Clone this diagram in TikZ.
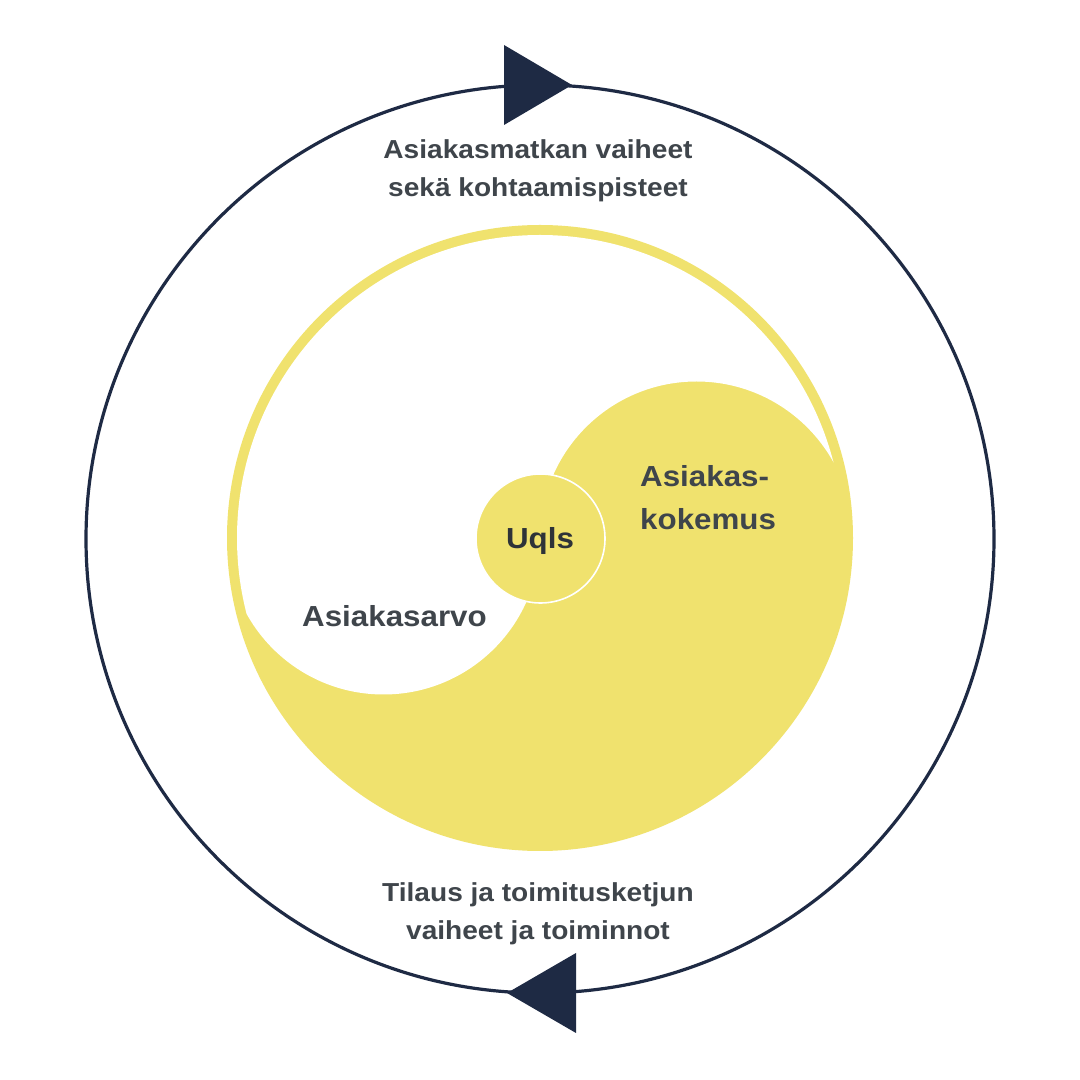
\documentclass[tikz,border=0pt]{standalone}
\usepackage{fontspec}
\setmainfont{Liberation Sans}[FakeStretch=1.08]
\usetikzlibrary{calc}
\definecolor{navy}{HTML}{1E2A44}
\definecolor{yel}{HTML}{F0E26E}
\definecolor{tgray}{HTML}{3F454B}
\definecolor{udark}{HTML}{2E3338}
\tikzset{
  lbl/.style={text=tgray, inner sep=0pt, font=\bfseries\fontsize{29}{43}\selectfont},
  cyclbl/.style={text=tgray, inner sep=0pt, align=center, font=\bfseries\fontsize{26}{38}\selectfont},
  arrowtri/.style={fill=navy},
}
\begin{document}
\begin{tikzpicture}[x=1pt,y=1pt]
\useasboundingbox (0,0) rectangle (1080,1080);
\fill[white] (0,0) rectangle (1080,1080);
% outer cycle
\node[circle, draw=navy, line width=3.2pt, minimum size=908pt, inner sep=0pt] (cycle) at (540,541) {};
\fill[arrowtri] (504,1035) -- (572,995) -- (504,955) -- cycle;
\fill[arrowtri] (576,127) -- (507,87) -- (576,47) -- cycle;
% yin-yang
\coordinate (yc) at (540,542);
\fill[yel] (yc) circle[radius=313];
\begin{scope}
  \clip (yc) circle[radius=303];
  \fill[white] ($(yc)+(-313,0)$) arc[start angle=180,end angle=0,radius=313]
     arc[start angle=0,end angle=180,radius=156.5]
     arc[start angle=0,end angle=-180,radius=156.5] -- cycle;
\end{scope}
% centre
\node[circle, fill=yel, draw=white, line width=1.6pt, minimum size=129pt, inner sep=0pt] (uqls) at (540.5,541.5) {};
\node[lbl, text=udark, anchor=base] (uqlstxt) at (540,531) {Uqls};
\node[lbl, anchor=base west] (arvo) at (302,453) {Asiakasarvo};
\node[lbl, anchor=base west, align=left] (kokemus) at (640,550) {Asiakas-\\kokemus};
\node[cyclbl, anchor=base] (matka) at (538,883) {Asiakasmatkan vaiheet\\sekä kohtaamispisteet};
\node[cyclbl, anchor=base] (tilaus) at (538,140) {Tilaus ja toimitusketjun\\vaiheet ja toiminnot};
\end{tikzpicture}
\end{document}
